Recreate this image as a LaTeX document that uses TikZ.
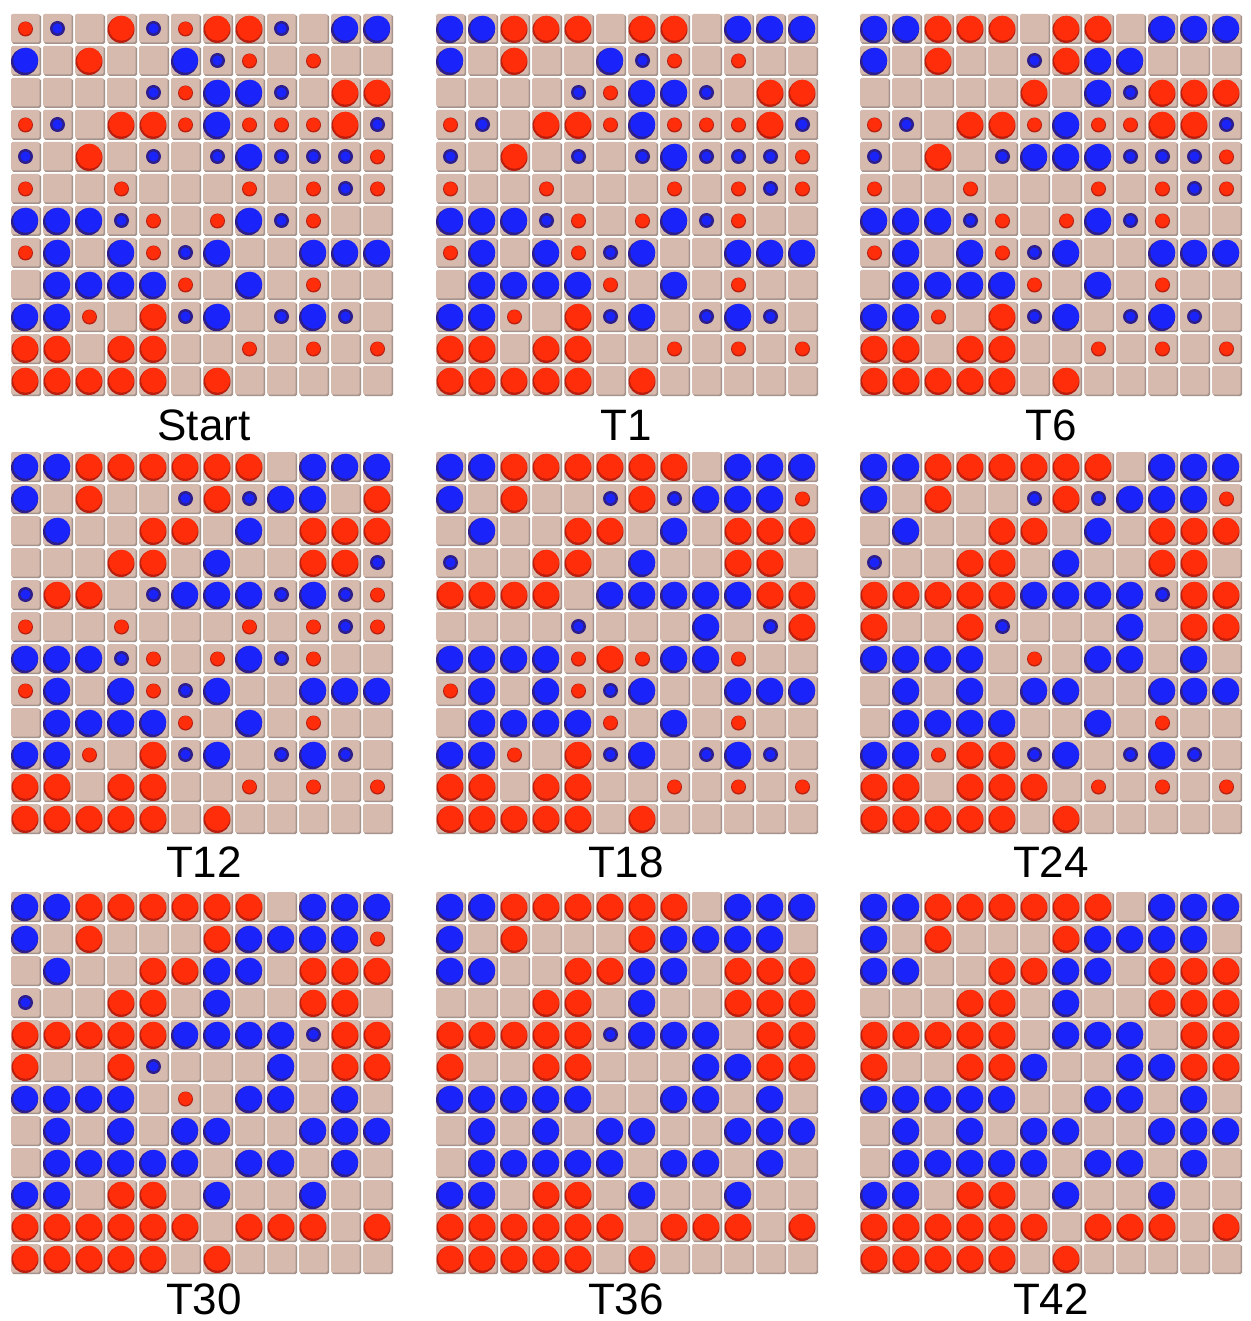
\documentclass[tikz,border=0pt]{standalone}
\usepackage{fontspec}
\setmainfont{Liberation Sans}
\usepackage{xcolor}

\definecolor{cellfill}{RGB}{214,186,174}
\definecolor{cellshade}{RGB}{165,148,140}
\definecolor{redball}{RGB}{255,45,10}
\definecolor{redrim}{RGB}{185,30,15}
\definecolor{blueball}{RGB}{25,35,250}
\definecolor{bluerim}{RGB}{45,30,140}

% one cell content per letter: R/B big, r/b small, o empty
\newcommand\ballR{\fill[redrim] (-0.5,1) circle (13.5pt); \fill[redball] (0,-0.3) circle (12.5pt);}
\newcommand\ballB{\fill[bluerim] (-1,1.2) circle (13.5pt); \fill[blueball] (0.3,-0.3) circle (12.5pt);}
\newcommand\ballr{\fill[redrim] (0,0.5) circle (7.5pt); \fill[redball] (0,0) circle (6.5pt);}
\newcommand\ballb{\fill[bluerim] (0,0) circle (7.5pt); \fill[blueball] (0,0) circle (5pt);}
\newcommand\ballo{}

% #1,#2 top left corner, #3 the twelve rows
\newcommand\drawgrid[3]{%
  \foreach \rowlist [count=\rw] in {#3} {
    \foreach \c [count=\cl] in \rowlist {
      \begin{scope}[shift={(#1+32*\cl-17.5,#2+32*\rw-17.5)}]
        \fill[cellshade, rounded corners=1.5pt] (-13.5,-13.5) rectangle (15.5,15.5);
        \fill[cellfill, rounded corners=1.5pt] (-14.5,-14.5) rectangle (14,14);
        \csname ball\c\endcsname
      \end{scope}
    }
  }
}

\begin{document}
\begin{tikzpicture}[
    x=1pt, y=-1pt,
    stamp/.style={anchor=base, inner sep=0pt, text depth=0pt, font=\fontsize{44}{48}\selectfont}
]
    \fill[white] (0,0) rectangle (1250,1321);
    \useasboundingbox (0,0) rectangle (1250,1321);

    % Start
    \drawgrid{11}{14}{
        {r,b,o,R,b,r,R,R,b,o,B,B},
        {B,o,R,o,o,B,b,r,o,r,o,o},
        {o,o,o,o,b,r,B,B,b,o,R,R},
        {r,b,o,R,R,r,B,r,r,r,R,b},
        {b,o,R,o,b,o,b,B,b,b,b,r},
        {r,o,o,r,o,o,o,r,o,r,b,r},
        {B,B,B,b,r,o,r,B,b,r,o,o},
        {r,B,o,B,r,b,B,o,o,B,B,B},
        {o,B,B,B,B,r,o,B,o,r,o,o},
        {B,B,r,o,R,b,B,o,b,B,b,o},
        {R,R,o,R,R,o,o,r,o,r,o,r},
        {R,R,R,R,R,o,R,o,o,o,o,o}}
    % T1
    \drawgrid{436}{14}{
        {B,B,R,R,R,o,R,R,o,B,B,B},
        {B,o,R,o,o,B,b,r,o,r,o,o},
        {o,o,o,o,b,r,B,B,b,o,R,R},
        {r,b,o,R,R,r,B,r,r,r,R,b},
        {b,o,R,o,b,o,b,B,b,b,b,r},
        {r,o,o,r,o,o,o,r,o,r,b,r},
        {B,B,B,b,r,o,r,B,b,r,o,o},
        {r,B,o,B,r,b,B,o,o,B,B,B},
        {o,B,B,B,B,r,o,B,o,r,o,o},
        {B,B,r,o,R,b,B,o,b,B,b,o},
        {R,R,o,R,R,o,o,r,o,r,o,r},
        {R,R,R,R,R,o,R,o,o,o,o,o}}
    % T6
    \drawgrid{860}{14}{
        {B,B,R,R,R,o,R,R,o,B,B,B},
        {B,o,R,o,o,b,R,B,B,o,o,o},
        {o,o,o,o,o,R,o,B,b,R,R,R},
        {r,b,o,R,R,r,B,r,r,R,R,b},
        {b,o,R,o,b,B,B,B,b,b,b,r},
        {r,o,o,r,o,o,o,r,o,r,b,r},
        {B,B,B,b,r,o,r,B,b,r,o,o},
        {r,B,o,B,r,b,B,o,o,B,B,B},
        {o,B,B,B,B,r,o,B,o,r,o,o},
        {B,B,r,o,R,b,B,o,b,B,b,o},
        {R,R,o,R,R,o,o,r,o,r,o,r},
        {R,R,R,R,R,o,R,o,o,o,o,o}}
    % T12
    \drawgrid{11}{452}{
        {B,B,R,R,R,R,R,R,o,B,B,B},
        {B,o,R,o,o,b,R,b,B,B,o,R},
        {o,B,o,o,R,R,o,B,o,R,R,R},
        {o,o,o,R,R,o,B,o,o,R,R,b},
        {b,R,R,o,b,B,B,B,b,B,b,r},
        {r,o,o,r,o,o,o,r,o,r,b,r},
        {B,B,B,b,r,o,r,B,b,r,o,o},
        {r,B,o,B,r,b,B,o,o,B,B,B},
        {o,B,B,B,B,r,o,B,o,r,o,o},
        {B,B,r,o,R,b,B,o,b,B,b,o},
        {R,R,o,R,R,o,o,r,o,r,o,r},
        {R,R,R,R,R,o,R,o,o,o,o,o}}
    % T18
    \drawgrid{436}{452}{
        {B,B,R,R,R,R,R,R,o,B,B,B},
        {B,o,R,o,o,b,R,b,B,B,B,r},
        {o,B,o,o,R,R,o,B,o,R,R,R},
        {b,o,o,R,R,o,B,o,o,R,R,o},
        {R,R,R,R,o,B,B,B,B,B,R,R},
        {o,o,o,o,b,o,o,o,B,o,b,R},
        {B,B,B,B,r,R,r,B,B,r,o,o},
        {r,B,o,B,r,b,B,o,o,B,B,B},
        {o,B,B,B,B,r,o,B,o,r,o,o},
        {B,B,r,o,R,b,B,o,b,B,b,o},
        {R,R,o,R,R,o,o,r,o,r,o,r},
        {R,R,R,R,R,o,R,o,o,o,o,o}}
    % T24
    \drawgrid{860}{452}{
        {B,B,R,R,R,R,R,R,o,B,B,B},
        {B,o,R,o,o,b,R,b,B,B,B,r},
        {o,B,o,o,R,R,o,B,o,R,R,R},
        {b,o,o,R,R,o,B,o,o,R,R,o},
        {R,R,R,R,R,B,B,B,B,b,R,R},
        {R,o,o,R,b,o,o,o,B,o,R,R},
        {B,B,B,B,o,r,o,B,B,o,B,o},
        {o,B,o,B,o,B,B,o,o,B,B,B},
        {o,B,B,B,B,o,o,B,o,r,o,o},
        {B,B,r,R,R,b,B,o,b,B,b,o},
        {R,R,o,R,R,R,o,r,o,r,o,r},
        {R,R,R,R,R,o,R,o,o,o,o,o}}
    % T30
    \drawgrid{11}{892}{
        {B,B,R,R,R,R,R,R,o,B,B,B},
        {B,o,R,o,o,o,R,B,B,B,B,r},
        {o,B,o,o,R,R,B,B,o,R,R,R},
        {b,o,o,R,R,o,B,o,o,R,R,o},
        {R,R,R,R,R,B,B,B,B,b,R,R},
        {R,o,o,R,b,o,o,o,B,o,R,R},
        {B,B,B,B,o,r,o,B,B,o,B,o},
        {o,B,o,B,o,B,B,o,o,B,B,B},
        {o,B,B,B,B,B,o,B,B,o,B,o},
        {B,B,o,R,R,o,B,o,o,B,o,o},
        {R,R,R,R,R,R,o,R,R,R,o,R},
        {R,R,R,R,R,o,R,o,o,o,o,o}}
    % T36
    \drawgrid{436}{892}{
        {B,B,R,R,R,R,R,R,o,B,B,B},
        {B,o,R,o,o,o,R,B,B,B,B,o},
        {B,B,o,o,R,R,B,B,o,R,R,R},
        {o,o,o,R,R,o,B,o,o,R,R,R},
        {R,R,R,R,R,b,B,B,B,o,R,R},
        {R,o,o,R,R,o,o,o,B,B,R,R},
        {B,B,B,B,B,o,o,B,B,o,B,o},
        {o,B,o,B,o,B,B,o,o,B,B,B},
        {o,B,B,B,B,B,o,B,B,o,B,o},
        {B,B,o,R,R,o,B,o,o,B,o,o},
        {R,R,R,R,R,R,o,R,R,R,o,R},
        {R,R,R,R,R,o,R,o,o,o,o,o}}
    % T42
    \drawgrid{860}{892}{
        {B,B,R,R,R,R,R,R,o,B,B,B},
        {B,o,R,o,o,o,R,B,B,B,B,o},
        {B,B,o,o,R,R,B,B,o,R,R,R},
        {o,o,o,R,R,o,B,o,o,R,R,R},
        {R,R,R,R,R,o,B,B,B,o,R,R},
        {R,o,o,R,R,B,o,o,B,B,R,R},
        {B,B,B,B,B,o,o,B,B,o,B,o},
        {o,B,o,B,o,B,B,o,o,B,B,B},
        {o,B,B,B,B,B,o,B,B,o,B,o},
        {B,B,o,R,R,o,B,o,o,B,o,o},
        {R,R,R,R,R,R,o,R,R,R,o,R},
        {R,R,R,R,R,o,R,o,o,o,o,o}}

    \node[stamp] (start) at (204,440) {Start};
    \node[stamp] (t1) at (626,440) {T1};
    \node[stamp] (t6) at (1051,440) {T6};
    \node[stamp] (t12) at (204,877) {T12};
    \node[stamp] (t18) at (626,877) {T18};
    \node[stamp] (t24) at (1051,877) {T24};
    \node[stamp] (t30) at (204,1314) {T30};
    \node[stamp] (t36) at (626,1314) {T36};
    \node[stamp] (t42) at (1051,1314) {T42};
\end{tikzpicture}
\end{document}
